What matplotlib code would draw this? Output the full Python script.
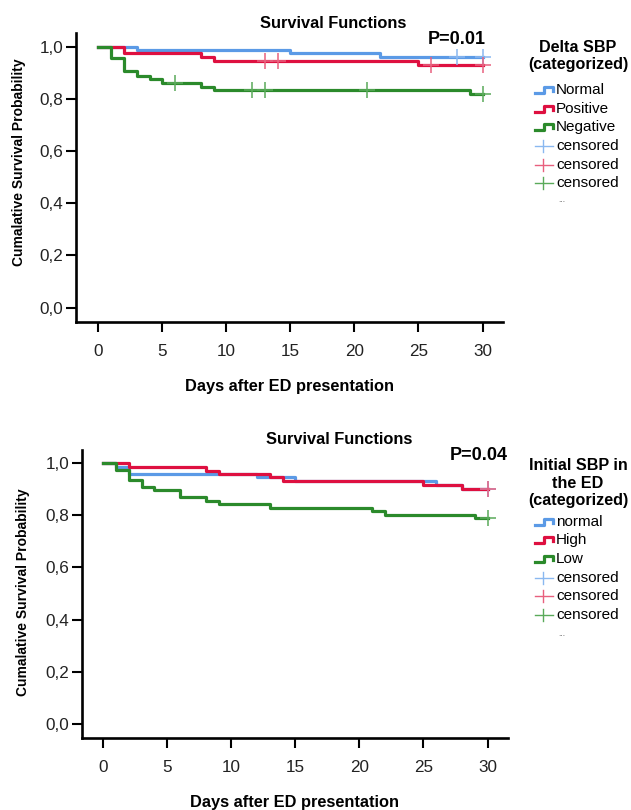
import numpy as np
import matplotlib
matplotlib.use("Agg")
import matplotlib.pyplot as plt
from matplotlib.lines import Line2D

plt.rcParams['font.family'] = ['Liberation Sans', 'DejaVu Sans']

# ---- top chart : Delta SBP ----
normal_t = [0, 3, 15, 22, 30]
normal_s = [1.0, 0.987, 0.975, 0.96, 0.96]
normal_cens = [28, 30]

positive_t = [0, 2, 8, 9, 25, 30]
positive_s = [1.0, 0.975, 0.96, 0.945, 0.93, 0.93]
positive_cens = [13, 14, 26, 30]

negative_t = [0, 1, 2, 3, 4, 5, 8, 9, 29, 30]
negative_s = [1.0, 0.955, 0.905, 0.888, 0.875, 0.862, 0.847, 0.834, 0.818, 0.818]
negative_cens = [6, 12, 13, 21, 30]

# ---- bottom chart : Initial SBP in the ED ----
norm2_t = [0, 1, 2, 12, 15, 26, 28, 30]
norm2_s = [1.0, 0.985, 0.96, 0.946, 0.932, 0.917, 0.90, 0.90]
norm2_cens = [30]

high_t = [0, 2, 8, 9, 13, 14, 25, 28, 30]
high_s = [1.0, 0.987, 0.972, 0.959, 0.946, 0.932, 0.917, 0.90, 0.90]
high_cens = [30]

low_t = [0, 1, 2, 3, 4, 6, 8, 9, 13, 21, 22, 29, 30]
low_s = [1.0, 0.974, 0.934, 0.91, 0.898, 0.872, 0.856, 0.843, 0.83, 0.817, 0.80, 0.788, 0.788]
low_cens = [30]

x_ticks = [0, 5, 10, 15, 20, 25, 30]
y_ticks = [0.0, 0.2, 0.4, 0.6, 0.8, 1.0]
y_labels = ['0,0', '0,2', '0,4', '0,6', '0,8', '1,0']

BLUE = '#5b9ae6'
RED = '#de1040'
GREEN = '#2b8a2b'
BLUE_L = '#8ab8f0'
RED_L = '#e8607e'
GREEN_L = '#5aaa5a'

W, H = 631, 810
fig = plt.figure(figsize=(W / 100, H / 100), dpi=100)


def px_axes(x0, y0, x1, y1):
    return fig.add_axes([x0 / W, 1 - y1 / H, (x1 - x0) / W, (y1 - y0) / H])


def km(ax, t, s, cens, col, lcol):
    ax.step(t, s, where='post', color=col, lw=2.3, zorder=3)
    cs = [s[np.searchsorted(t, c, side='right') - 1] for c in cens]
    ax.plot(cens, cs, ls='none', marker='+', ms=12, mew=1.1, color=lcol, zorder=4)


def style(ax, xlim, ylim):
    ax.set_xlim(*xlim)
    ax.set_ylim(*ylim)
    for sp in ['top', 'right']:
        ax.spines[sp].set_visible(False)
    for sp in ['left', 'bottom']:
        ax.spines[sp].set_linewidth(1.9)
    ax.set_xticks(x_ticks)
    ax.set_yticks(y_ticks)
    ax.set_yticklabels(y_labels)
    ax.tick_params(length=7, width=1.5, labelsize=12.3, color='black', labelcolor='#222222')
    ax.tick_params(axis='x', pad=9)
    ax.tick_params(axis='y', pad=2)
    ax.set_xlabel('Days after ED presentation', fontsize=11.8, fontweight='bold', labelpad=14)


ax1 = px_axes(76, 33, 503, 322)
km(ax1, normal_t, normal_s, normal_cens, BLUE, BLUE_L)
km(ax1, positive_t, positive_s, positive_cens, RED, RED_L)
km(ax1, negative_t, negative_s, negative_cens, GREEN, GREEN_L)
style(ax1, (-1.74, 31.6), (-0.055, 1.052))

ax2 = px_axes(82, 450, 508, 738)
km(ax2, norm2_t, norm2_s, norm2_cens, BLUE, BLUE_L)
km(ax2, high_t, high_s, high_cens, RED, RED_L)
km(ax2, low_t, low_s, low_cens, GREEN, GREEN_L)
style(ax2, (-1.66, 31.6), (-0.055, 1.051))

# overlay in pixel coords for titles / legends
ov = fig.add_axes([0, 0, 1, 1], facecolor='none')
ov.set_xlim(0, W)
ov.set_ylim(H, 0)
ov.axis('off')

ov.text(19, 162, 'Cumalative Survival Probability', rotation=90, ha='center', va='center',
        fontsize=10, fontweight='bold')
ov.text(23, 592, 'Cumalative Survival Probability', rotation=90, ha='center', va='center',
        fontsize=10, fontweight='bold')

ov.text(333, 23, 'Survival Functions', ha='center', va='center', fontsize=11.8, fontweight='bold')
ov.text(339, 440, 'Survival Functions', ha='center', va='center', fontsize=11.8, fontweight='bold')
ov.text(486, 40, 'P=0.01', ha='right', va='center', fontsize=13, fontweight='bold')
ov.text(508, 455, 'P=0.04', ha='right', va='center', fontsize=13, fontweight='bold')


def legend(title_lines, title_y, names, rows_y, dots_y):
    for txt, y in zip(title_lines, title_y):
        ov.text(578, y, txt, ha='center', va='center', fontsize=11.6, fontweight='bold')
    cols = [BLUE, RED, GREEN]
    lcols = [BLUE_L, RED_L, GREEN_L]
    for i in range(3):
        y = rows_y[i]
        xs = np.array([535, 544, 544, 553, 553])
        ys = np.array([y + 3, y + 3, y - 3, y - 3, y + 1])
        ov.add_line(Line2D(xs, ys, color=cols[i], lw=2.3))
        ov.text(556, y, names[i], ha='left', va='center', fontsize=11)
    for i in range(3):
        y = rows_y[3 + i]
        ov.add_line(Line2D([535, 553], [y, y], color=lcols[i], lw=1.0))
        ov.add_line(Line2D([543, 543], [y - 6, y + 6], color=lcols[i], lw=1.0))
        ov.text(556, y, 'censored', ha='left', va='center', fontsize=11)
    ov.text(562, dots_y, '...', ha='center', va='center', fontsize=6, color='#555555')


legend(['Delta SBP', '(categorized)'], [48, 65], ['Normal', 'Positive', 'Negative'],
       [90, 109, 127, 146, 165, 183], 201)
legend(['Initial SBP in', 'the ED', '(categorized)'], [465, 483, 500], ['normal', 'High', 'Low'],
       [522, 540, 559, 578, 596, 615], 634)

fig.savefig('out.png', dpi=100)
